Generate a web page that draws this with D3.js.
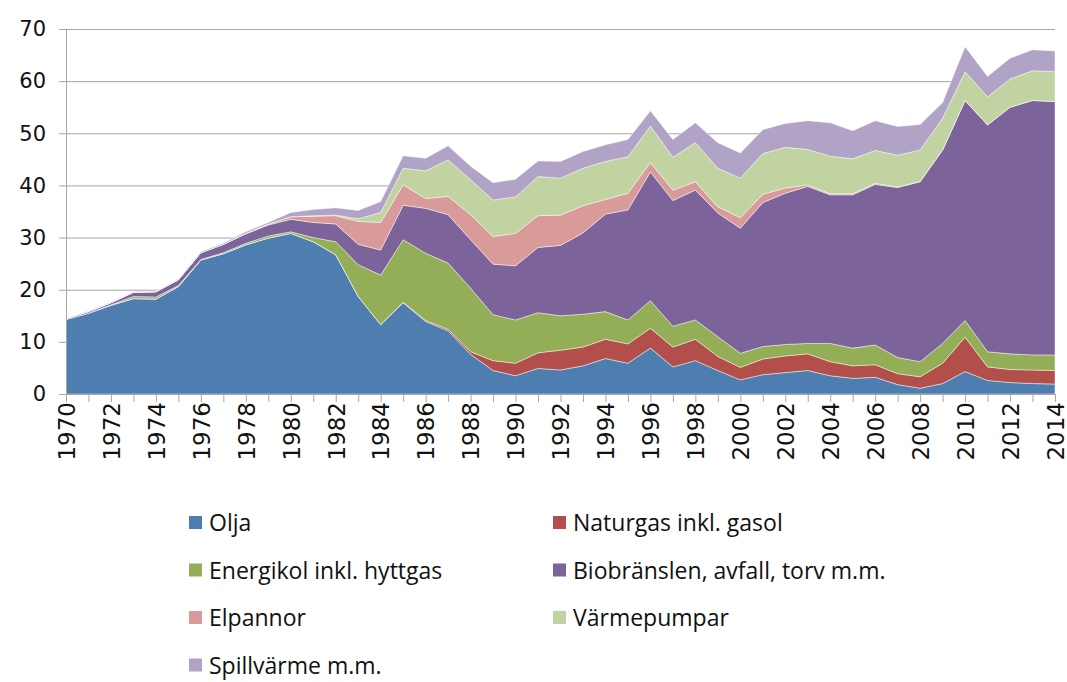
<!DOCTYPE html>
<html>
<head>
<meta charset="utf-8">
<script src="https://cdn.jsdelivr.net/npm/d3@7"></script>
<style>
  body { margin: 0; background: #fff; }
  .axis text { font-family: "DejaVu Sans", Verdana, sans-serif; fill: #111; }
  .axis path, .axis line { stroke: #a6a6a6; }
  .legend text { font-family: "Liberation Sans Narrow", "Open Sans", sans-serif; font-size: 23px; fill: #111; }
</style>
</head>
<body>
<script>
// år 1970-2014, TWh
var years = d3.range(1970, 2015);

var seriesNames = ["Olja", "Naturgas inkl. gasol", "Energikol inkl. hyttgas",
  "Biobränslen, avfall, torv m.m.", "Elpannor", "Värmepumpar", "Spillvärme m.m."];

var olja = [14.3, 15.5, 17.0, 18.3, 18.2, 20.6, 25.7, 26.9, 28.6, 29.9, 30.8, 29.2, 26.7, 18.7, 13.3,
  17.5, 13.9, 12.1, 7.6, 4.5, 3.5, 4.9, 4.6, 5.4, 6.8, 5.9, 8.8, 5.2, 6.4, 4.5,
  2.7, 3.7, 4.1, 4.5, 3.5, 3.0, 3.2, 1.8, 1.1, 2.0, 4.3, 2.6, 2.2, 2.0, 1.9];
var naturgas = [0, 0, 0, 0, 0, 0, 0, 0, 0, 0, 0, 0, 0, 0, 0,
  0.1, 0.2, 0.3, 0.5, 1.9, 2.4, 3.0, 3.8, 3.6, 3.7, 3.7, 3.8, 3.8, 4.1, 2.7,
  2.4, 3.0, 3.2, 3.2, 2.7, 2.4, 2.4, 2.1, 2.2, 3.9, 6.6, 2.6, 2.5, 2.6, 2.6];
var kol = [0, 0, 0.1, 0.4, 0.4, 0.2, 0.1, 0.2, 0.3, 0.4, 0.3, 0.8, 2.5, 6.1, 9.5,
  12.0, 12.9, 12.7, 12.2, 8.8, 8.3, 7.7, 6.6, 6.3, 5.3, 4.6, 5.3, 4.0, 3.7, 3.8,
  2.7, 2.4, 2.2, 2.0, 3.5, 3.4, 3.8, 3.1, 2.9, 3.8, 3.2, 2.9, 3.0, 2.9, 3.0];
var bio = [0.2, 0.3, 0.4, 0.8, 1.0, 1.1, 1.3, 1.6, 1.8, 2.1, 2.4, 2.9, 3.4, 3.9, 4.8,
  6.6, 8.6, 9.3, 9.3, 9.7, 10.4, 12.5, 13.5, 15.6, 18.7, 21.1, 24.7, 24.1, 24.9, 23.7,
  24.0, 27.6, 29.0, 30.1, 28.5, 29.4, 30.8, 32.6, 34.5, 37.1, 42.2, 43.5, 47.3, 48.8, 48.6];
var elpannor = [0, 0, 0, 0, 0, 0, 0, 0, 0.1, 0.2, 0.5, 1.2, 1.6, 4.4, 5.3,
  3.9, 1.9, 3.5, 4.8, 5.3, 6.2, 6.1, 5.8, 5.2, 2.8, 3.2, 1.8, 2.0, 1.6, 1.2,
  2.0, 1.6, 1.0, 0.3, 0.2, 0.2, 0.2, 0.1, 0.1, 0, 0, 0, 0, 0, 0];
var varmepumpar = [0, 0, 0, 0, 0, 0, 0, 0, 0, 0, 0, 0.1, 0.1, 0.5, 1.9,
  3.2, 5.3, 7.0, 6.7, 7.0, 7.0, 7.5, 7.1, 7.2, 7.3, 7.0, 7.0, 6.3, 7.5, 7.4,
  7.6, 7.8, 7.8, 6.8, 7.2, 6.7, 6.3, 6.1, 6.0, 6.1, 5.5, 5.4, 5.4, 5.7, 5.7];
var spillvarme = [0, 0.1, 0.1, 0.1, 0.1, 0.1, 0.2, 0.2, 0.3, 0.3, 0.8, 1.2, 1.4, 1.6, 2.1,
  2.4, 2.4, 2.7, 2.6, 3.3, 3.4, 3.0, 3.2, 3.2, 3.2, 3.3, 2.9, 3.4, 3.8, 4.9,
  4.8, 4.6, 4.6, 5.5, 6.4, 5.4, 5.7, 5.5, 4.9, 3.0, 4.8, 3.9, 4.0, 4.0, 4.0];

var yTicks = [0, 10, 20, 30, 40, 50, 60, 70];

var colors = ["#4e7eb0", "#b24f4b", "#94ae58", "#7c639a", "#d89b99", "#c1d3a1", "#b1a3c6"];

var allSeries = [olja, naturgas, kol, bio, elpannor, varmepumpar, spillvarme];
var table = years.map(function (yr, i) {
  var row = { year: yr };
  seriesNames.forEach(function (n, k) { row[n] = allSeries[k][i]; });
  return row;
});

var W = 1067, H = 682;
var plotLeft = 66, plotRight = 1055, plotTop = 29, plotBottom = 394;

var svg = d3.select("body").append("svg")
  .attr("width", W)
  .attr("height", H);

var x = d3.scaleLinear().domain([1970, 2014]).range([plotLeft, plotRight]);
var y = d3.scaleLinear().domain([0, 70]).range([plotBottom, plotTop]);

// gridlines
svg.append("g")
  .attr("class", "axis grid")
  .attr("transform", "translate(" + plotLeft + ",0)")
  .call(d3.axisLeft(y).tickValues(yTicks).tickSize(-(plotRight - plotLeft)).tickFormat(""))
  .call(function (g) { g.select(".domain").remove(); });

var stack = d3.stack().keys(seriesNames);
var layers = stack(table);

var area = d3.area()
  .x(function (d) { return x(d.data.year); })
  .y0(function (d) { return y(d[0]); })
  .y1(function (d) { return y(d[1]); });

svg.append("g").selectAll("path")
  .data(layers)
  .enter().append("path")
  .attr("d", area)
  .attr("fill", function (d, i) { return colors[i]; })
  .attr("stroke", "#ffffff")
  .attr("stroke-opacity", 0.45)
  .attr("stroke-width", 1);

// y axis
svg.append("g")
  .attr("class", "axis")
  .attr("transform", "translate(" + plotLeft + ",0)")
  .call(d3.axisLeft(y).tickValues(yTicks).tickSize(7).tickPadding(13))
  .call(function (g) {
    g.selectAll("text").style("font-size", "21px");
  });

// x axis
svg.append("g")
  .attr("class", "axis")
  .attr("transform", "translate(0," + plotBottom + ")")
  .call(d3.axisBottom(x).tickValues(years).tickSize(8)
    .tickFormat(function (d) { return d % 2 === 0 ? d : ""; }))
  .call(function (g) {
    g.selectAll("text")
      .style("font-size", "23px")
      .attr("transform", "rotate(-90)")
      .attr("x", -8)
      .attr("y", 0)
      .attr("dy", "0.36em")
      .style("text-anchor", "end");
  });

// legend
var legend = svg.append("g").attr("class", "legend")
  .selectAll("g")
  .data(seriesNames)
  .enter().append("g")
  .attr("transform", function (d, i) {
    var col = i % 2, row = Math.floor(i / 2);
    return "translate(" + (col === 0 ? 189 : 553) + "," + (523 + row * 47.5) + ")";
  });

legend.append("rect")
  .attr("x", 0)
  .attr("y", -7)
  .attr("width", 13)
  .attr("height", 13)
  .attr("fill", function (d, i) { return colors[i]; });

legend.append("text")
  .attr("x", 20)
  .attr("y", 0)
  .attr("dy", "0.35em")
  .text(function (d) { return d; });
</script>
</body>
</html>
